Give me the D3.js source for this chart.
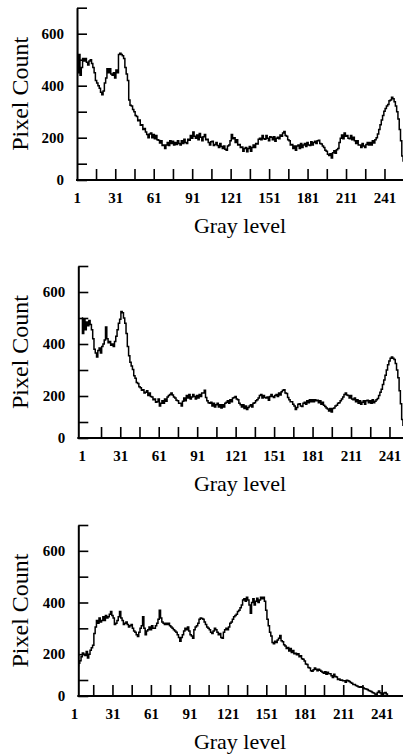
<!DOCTYPE html>
<html><head><meta charset="utf-8">
<script src="https://cdn.jsdelivr.net/npm/d3@7"></script>
<style>
html,body{margin:0;padding:0;background:#fff;}
svg{display:block;}
text{font-family:"Liberation Serif","Times New Roman",serif;fill:#000;}
</style></head>
<body>
<script>
// ---------- data ----------
const grayLevels = d3.range(1, 257);
const xTickMarks = [16,31,46,61,76,91,106,121,136,151,166,181,196,211,226,241];
const xTickLabels = [1,31,61,91,121,151,181,211,241];
const yTickMarks = [0,100,200,300,400,500,600,700];
const yTickLabels = [0,200,400,600];
const xTitle = "Gray level";
const yTitle = "Pixel Count";

const countsTop = [
610,450,520,440,470,505,495,505,490,480,495,500,485,470,450,420,410,400,390,375,
365,380,410,430,465,450,465,445,440,450,430,460,450,520,525,520,515,505,470,445,
420,345,325,322,308,300,285,282,265,268,248,250,232,235,222,212,200,214,218,200,
212,196,208,192,190,180,188,170,172,158,172,182,170,188,178,186,172,182,174,188,
178,172,188,178,194,182,178,194,190,208,198,222,206,198,210,192,216,202,188,204,
212,192,194,182,172,184,186,170,174,182,170,162,178,166,158,168,156,152,168,172,
188,212,196,200,182,192,172,174,162,164,148,158,162,146,158,166,148,162,172,162,
178,176,194,198,192,208,196,194,208,198,188,204,202,192,204,186,198,202,196,210,
206,218,224,208,206,192,188,172,174,158,168,152,168,172,158,178,162,172,178,166,
182,172,170,184,172,182,186,178,188,190,178,176,168,162,152,148,136,132,138,122,
142,150,140,154,158,182,198,210,196,218,206,208,198,196,208,192,202,188,178,188,
172,172,162,178,168,162,174,182,172,182,172,188,180,192,200,214,232,250,268,285,
302,312,322,328,342,345,356,350,338,322,300,272,232,188,130,110];

const countsMiddle = [
500,440,495,455,485,470,490,475,455,420,380,365,350,375,385,365,390,400,415,465,
420,405,410,395,400,390,410,430,455,480,495,525,520,500,480,440,390,355,330,315,
302,278,268,252,248,236,232,222,224,212,214,220,202,212,198,196,186,188,176,178,
188,162,172,182,172,188,180,196,202,206,212,204,196,192,184,182,172,172,162,180,
192,182,202,192,206,188,196,206,198,188,202,192,206,198,212,212,222,194,182,174,
172,176,162,172,158,166,172,158,166,154,166,158,172,176,182,172,186,178,192,194,
198,188,186,172,166,158,166,152,162,148,156,162,166,158,172,174,182,186,192,202,
206,192,202,194,192,196,184,198,206,198,194,202,206,198,212,204,216,222,224,212,
210,194,186,178,178,168,162,148,156,168,170,162,160,172,176,168,182,174,186,178,
186,178,186,182,184,174,182,168,176,164,160,154,150,142,152,138,152,154,162,164,
172,174,182,188,196,206,212,204,202,192,202,188,186,192,178,186,172,182,168,176,
182,168,182,184,174,182,172,186,174,180,186,190,202,214,226,244,262,280,300,320,
335,345,350,345,340,325,300,270,220,170,110,80,60,50,40,30];

const countsBottom = [
140,150,145,155,165,175,190,205,200,195,210,185,200,215,225,235,280,305,330,320,
340,325,330,345,330,350,340,345,355,365,350,340,315,320,330,345,365,340,330,315,
320,325,315,305,310,315,300,290,285,275,268,285,300,310,345,300,275,290,295,305,
295,310,300,300,310,320,335,370,340,325,320,315,320,315,320,310,305,300,295,290,
285,275,265,250,265,275,290,300,295,305,290,275,270,262,295,305,310,320,335,340,
338,335,325,315,305,300,295,285,280,290,300,295,285,275,280,265,262,285,295,300,
295,305,320,325,335,345,350,355,365,370,380,390,410,415,405,420,410,390,358,400,
415,390,405,416,400,410,420,415,420,405,370,335,310,285,270,245,240,250,245,255,
262,272,252,248,236,232,222,226,212,222,206,214,202,204,198,202,190,194,182,180,
174,162,160,148,146,136,134,140,146,142,136,142,138,134,130,126,132,122,130,124,
124,116,110,122,114,112,102,104,98,100,96,96,86,98,96,90,84,80,72,72,
66,62,58,55,58,54,50,46,44,40,35,32,28,22,18,12,10,22,32,20,
12,10,18,22,12,0,0,0,0,0,0,0,0,0,0,0];

// ---------- layout ----------
const W = 403, H = 756;
const panels = [
  {counts: countsTop,    ax: 77,   gx1: 76.8, y0: 180, y100: 163.7, y700: 7.7},
  {counts: countsMiddle, ax: 78.3, gx1: 81.8, y0: 438, y100: 422,   y700: 266},
  {counts: countsBottom, ax: 78.3, gx1: 74.0, y0: 696, y100: 680,   y700: 525}
];
const unit = 1.282;

const svg = d3.select("body").append("svg").attr("width", W).attr("height", H);

panels.forEach((p, i) => {
  const x = d3.scaleLinear().domain([1, 256]).range([p.gx1, p.gx1 + 255 * unit]);
  const y = d3.scaleLinear().domain([0, 100, 700]).range([p.y0, p.y100, p.y700]);
  const g = svg.append("g");

  const clipId = "clip" + i;
  svg.append("clipPath").attr("id", clipId).append("rect")
    .attr("x", p.ax).attr("y", p.y700 - 20).attr("width", W - p.ax).attr("height", p.y0 - p.y700 + 21);

  // histogram line
  const data = grayLevels.map((gl, k) => ({g: gl, v: p.counts[k]}));
  const line = d3.line().x(d => x(d.g)).y(d => y(d.v)).curve(d3.curveStep);
  g.append("path").datum(data).attr("d", line)
    .attr("clip-path", `url(#${clipId})`)
    .attr("fill", "none").attr("stroke", "#000").attr("stroke-width", 1.5)
    .attr("stroke-linejoin", "miter");

  // y axis
  const yAxis = d3.axisLeft(y).tickValues(yTickMarks).tickSizeInner(-10).tickSizeOuter(0)
    .tickPadding(13).tickFormat(v => yTickLabels.includes(v) ? String(v) : "");
  const ya = g.append("g").attr("transform", `translate(${p.ax},0)`).call(yAxis);
  ya.select(".domain").attr("stroke-width", 2);
  ya.selectAll(".tick line").attr("stroke-width", 1.6);
  ya.selectAll(".tick text").style("font-size", "15px").style("font-weight", "bold")
    .style("font-family", '"Liberation Serif", serif');

  // x axis
  const xAxis = d3.axisBottom(x).tickValues([1].concat(xTickMarks)).tickSizeInner(-11).tickSizeOuter(0)
    .tickPadding(12).tickFormat(v => xTickLabels.includes(v) ? String(v) : "");
  const xa = g.append("g").attr("transform", `translate(0,${y(0)})`).call(xAxis);
  xa.select(".domain").remove();
  xa.selectAll(".tick line").attr("stroke-width", 1.6).attr("stroke", d => d === 1 ? "none" : "#000");
  xa.selectAll(".tick text").style("font-size", "15px").style("font-weight", "bold")
    .style("font-family", '"Liberation Serif", serif');
  g.append("line").attr("x1", p.ax - 1).attr("x2", W).attr("y1", y(0)).attr("y2", y(0))
    .attr("stroke", "#000").attr("stroke-width", 2);

  // titles
  g.append("text").attr("x", 240).attr("y", y(0) + 53).attr("text-anchor", "middle")
    .style("font-size", "22px").text(xTitle);
  g.append("text").attr("transform", `translate(28,${(p.y700 + p.y0) / 2}) rotate(-90)`)
    .attr("text-anchor", "middle").style("font-size", "24px").text(yTitle);
});
</script>
</body></html>
